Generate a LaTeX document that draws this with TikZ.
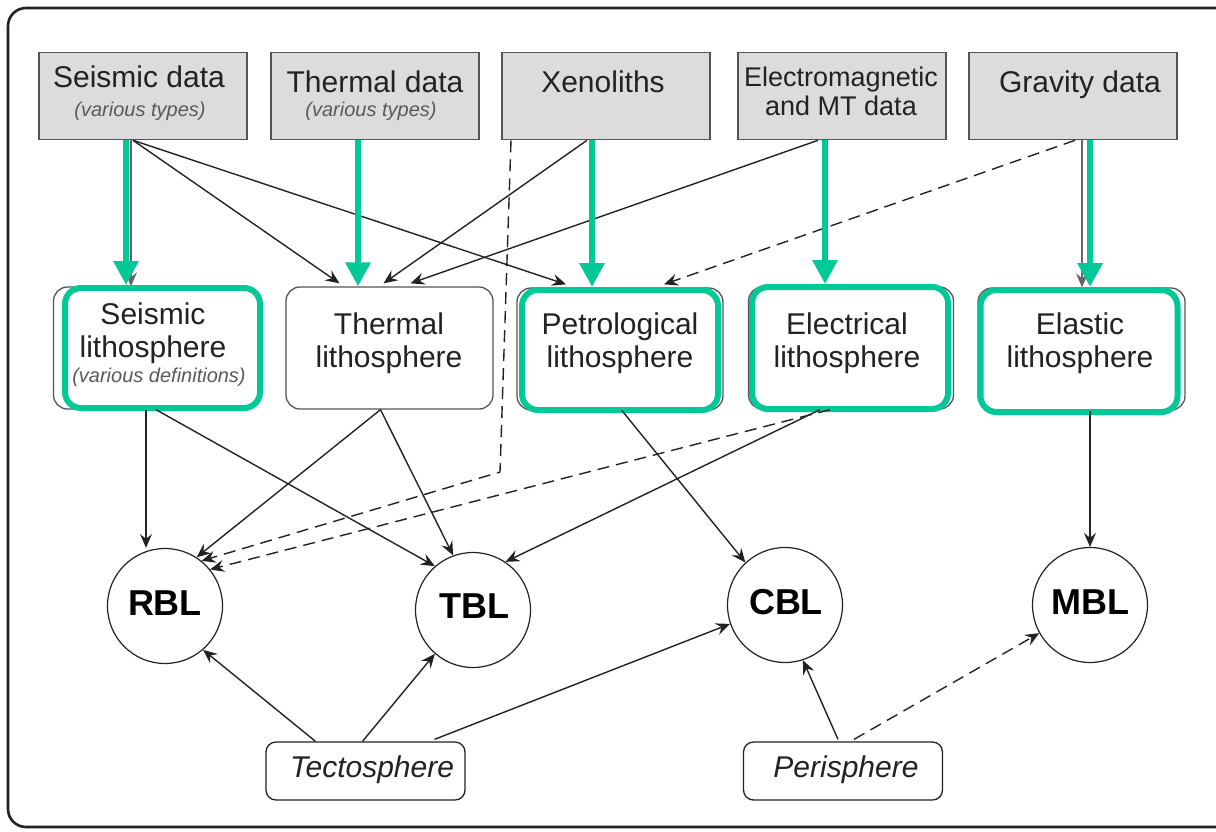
\documentclass[tikz,border=0pt]{standalone}
\usepackage{fontspec}
\setmainfont{Liberation Sans}
\usetikzlibrary{arrows.meta,calc}
\definecolor{grn}{HTML}{00C896}
\definecolor{boxgray}{HTML}{DCDCDC}
\definecolor{edgegray}{HTML}{555555}
\definecolor{ink}{HTML}{222222}
\tikzset{
  databox/.style={draw=edgegray,line width=1.6pt,fill=boxgray,minimum width=208pt,minimum height=87pt,inner sep=0pt},
  lithobox/.style={draw=edgegray,line width=1.3pt,rounded corners=14pt,fill=white,inner sep=0pt},
  greenbox/.style={draw=grn,line width=6pt,rounded corners=16pt,inner sep=0pt},
  blcircle/.style={circle,draw=ink,line width=1.2pt,minimum size=115pt,inner sep=0pt,fill=white},
  spherebox/.style={draw=ink,line width=1.3pt,rounded corners=10pt,fill=white,minimum width=199pt,minimum height=58pt,inner sep=0pt},
  bigtxt/.style={font=\fontsize{30}{33}\selectfont,align=center,inner sep=0pt,text=ink},
  midtxt/.style={font=\fontsize{27}{29}\selectfont,align=center,inner sep=0pt,text=ink},
  smalltxt/.style={font=\fontsize{20}{22}\selectfont\itshape,align=center,inner sep=0pt,text=black!65},
  bltxt/.style={font=\fontsize{36}{38}\selectfont\bfseries,inner sep=0pt},
  spheretxt/.style={font=\fontsize{30}{33}\selectfont\itshape,inner sep=0pt,text=ink},
  conn/.style={draw=ink,line width=1.4pt,-{Stealth[length=14pt,width=12pt,inset=5pt]}},
  dconn/.style={conn,dash pattern=on 12pt off 7pt},
  greenarrow/.style={draw=grn,line width=6pt,-{Triangle[length=24pt,width=24pt]}},
  hiddenarrow/.style={draw=black!60,line width=1.4pt,-{Stealth[length=14pt,width=12pt,inset=5pt]}}
}
\begin{document}
\begin{tikzpicture}[x=1pt,y=-1pt]
\useasboundingbox (0,0) rectangle (1216,831);
\begin{scope}
\clip (0,0) rectangle (1216,831);
\draw[line width=2.6pt,draw=ink,rounded corners=18pt] (8,8) rectangle (1240,827);
\end{scope}

% data boxes
\node[databox] (sd) at (143,96) {};
\node[databox] (td) at (375,96) {};
\node[databox] (xd) at (606,96) {};
\node[databox] (ed) at (842,96) {};
\node[databox] (gd) at (1073,96) {};
\node[bigtxt] (sdt) at (139,77) {Seismic data};
\node[smalltxt] (sdn) at (140,111) {(various types)};
\node[bigtxt] (tdt) at (375,82) {Thermal data};
\node[smalltxt] (tdn) at (371,111) {(various types)};
\node[bigtxt] (xdt) at (603,82) {Xenoliths};
\node[midtxt] (edt) at (841,91) {Electromagnetic\\and MT data};
\node[bigtxt] (gdt) at (1080,85) {Gravity data};

% lithosphere boxes
\node[lithobox,minimum width=205pt,minimum height=122pt] (sl) at (156,348) {};
\node[lithobox,minimum width=207pt,minimum height=122pt] (tl) at (389.5,348) {};
\node[lithobox,minimum width=206pt,minimum height=122pt] (pl) at (620,349) {};
\node[lithobox,minimum width=205pt,minimum height=122pt] (el) at (851,348) {};
\node[lithobox,minimum width=207pt,minimum height=122pt] (al) at (1081.5,349) {};

% circles
\node[blcircle] (rbl) at (165,606) {};
\node[blcircle] (tbl) at (473,610) {};
\node[blcircle] (cbl) at (785,605) {};
\node[blcircle] (mbl) at (1090,605) {};
\node[bltxt] (rblt) at (165,603) {RBL};
\node[bltxt] (tblt) at (474,606) {TBL};
\node[bltxt] (cblt) at (786,602) {CBL};
\node[bltxt] (mblt) at (1090,602) {MBL};

% bottom boxes
\node[spherebox] (tecto) at (365.5,771) {};
\node[spherebox] (peri) at (843,771) {};
\node[spheretxt] (tectot) at (372,770) {Tectosphere};
\node[spheretxt] (perit) at (846,770) {Perisphere};

% arrows from data to lithospheres
\draw[conn] ([xshift=-10pt]sd.south) -- ([xshift=-50pt,yshift=3pt]tl.north);
\draw[conn] ([xshift=-10pt]sd.south) -- ([xshift=-54pt,yshift=3pt]pl.north);
\draw[conn] ([xshift=-19pt]xd.south) -- ([xshift=-6pt,yshift=3pt]tl.north);
\draw[conn] ([xshift=-24pt]ed.south) -- ([xshift=21pt,yshift=3pt]tl.north);
\draw[dconn] ([xshift=2pt]gd.south) -- ([xshift=44pt,yshift=3pt]pl.north);
\coordinate (xbend) at (500,472);
\draw[dconn] ([xshift=-95pt]xd.south) -- (xbend) -- (rbl.51);
\draw[hiddenarrow] ([xshift=-12pt]sd.south) -- ([xshift=-12pt]sd.south |- sl.north);
\draw[hiddenarrow] ([xshift=9pt]gd.south) -- ([xshift=9pt]gd.south |- al.north);

% green highlighted boxes
\node[greenbox,minimum width=195pt,minimum height=120pt] (slg) at (162.5,348) {};
\node[greenbox,minimum width=196pt,minimum height=120pt] (plg) at (620,350) {};
\node[greenbox,minimum width=196pt,minimum height=122pt] (elg) at (850,348) {};
\node[greenbox,minimum width=197pt,minimum height=122pt] (alg) at (1079,351) {};

% green arrows
\draw[greenarrow] ([xshift=-17pt]sd.south) -- ([xshift=-17pt]sd.south |- slg.north);
\draw[greenarrow] ([xshift=-17pt]td.south) -- ([xshift=-17pt]td.south |- tl.north);
\draw[greenarrow] ([xshift=-14pt]xd.south) -- ([xshift=-14pt]xd.south |- plg.north);
\draw[greenarrow] ([xshift=-17pt]ed.south) -- ([xshift=-17pt]ed.south |- elg.north);
\draw[greenarrow] ([xshift=17pt]gd.south) -- ([xshift=17pt]gd.south |- alg.north);

% lithosphere texts
\node[bigtxt] (slt) at (153,333) {Seismic\\lithosphere};
\node[smalltxt] (sln) at (159,377) {(various definitions)};
\node[bigtxt] (tlt) at (389,343) {Thermal\\lithosphere};
\node[bigtxt] (plt) at (620,343) {Petrological\\lithosphere};
\node[bigtxt] (elt) at (847,343) {Electrical\\lithosphere};
\node[bigtxt] (alt) at (1080,343) {Elastic\\lithosphere};

% lithospheres to boundary layers
\draw[conn] ([xshift=-10pt]sl.south) -- ([xshift=-10pt]sl.south |- rbl.north);
\draw[conn] (sl.south) -- (tbl.131);
\draw[conn] ([xshift=-9pt]tl.south) -- (rbl.57);
\draw[conn] ([xshift=-9pt]tl.south) -- (tbl.110);
\draw[conn] ([xshift=2pt]pl.south) -- (cbl.133);
\draw[dconn] ([xshift=-21pt]el.south) -- (rbl.39);
\draw[conn] ([xshift=-31pt]el.south) -- (tbl.56);
\draw[conn] ([xshift=8.5pt]al.south) -- ([xshift=8.5pt]al.south |- mbl.north);

% tectosphere / perisphere
\draw[conn] ([xshift=-50pt]tecto.north) -- (rbl.-49);
\draw[conn] ([xshift=-3pt]tecto.north) -- (tbl.-131);
\draw[conn] ([xshift=69pt,yshift=2pt]tecto.north) -- (cbl.-161);
\draw[conn] ([xshift=-5pt,yshift=2pt]peri.north) -- (cbl.-72);
\draw[dconn] ([xshift=11pt,yshift=2pt]peri.north) -- (mbl.-151);
\end{tikzpicture}
\end{document}
